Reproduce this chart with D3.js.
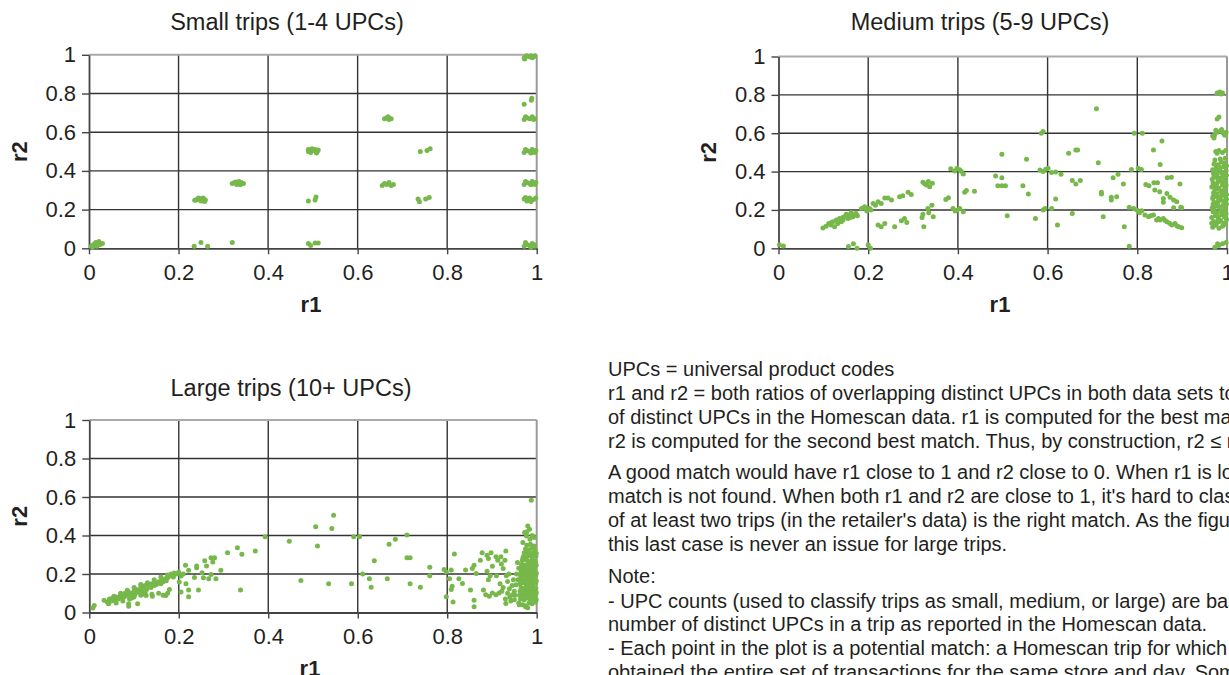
<!DOCTYPE html>
<html>
<head>
<meta charset="utf-8">
<script src="https://cdn.jsdelivr.net/npm/d3@7"></script>
<style>
  html, body { margin: 0; padding: 0; background: #fff; overflow: hidden; }
  svg { display: block; }
  text { font-family: "Liberation Sans", Arial, Helvetica, sans-serif; fill: #231f20; }
</style>
</head>
<body>
<svg id="chart" width="1229" height="675"></svg>
<script>
// ---------------- DATA ----------------
const axisTicks = [0, 0.2, 0.4, 0.6, 0.8, 1];
const tickLabels = ["0", "0.2", "0.4", "0.6", "0.8", "1"];
const panelTitles = ["Small trips (1-4 UPCs)", "Medium trips (5-9 UPCs)", "Large trips (10+ UPCs)"];
const xAxisTitle = "r1";
const yAxisTitle = "r2";

// [r1, r2] pairs
const smallTrips = [
  [0.005,0.01],[0.01,0.02],[0.015,0.03],[0.02,0.025],[0.008,0.005],[0.025,0.02],[0.012,0.015],[0.03,0.025],[0.018,0.01],[0.022,0.035],
  [0.24,0.25],[0.245,0.26],[0.25,0.255],[0.255,0.26],[0.26,0.25],[0.25,0.245],[0.258,0.242],[0.242,0.255],[0.236,0.248],
  [0.235,0.01],[0.25,0.03],[0.265,0.01],
  [0.32,0.335],[0.325,0.34],[0.33,0.335],[0.335,0.345],[0.34,0.34],[0.345,0.335],[0.33,0.33],[0.338,0.328],[0.328,0.342],
  [0.32,0.03],
  [0.49,0.5],[0.49,0.51],[0.495,0.495],[0.5,0.505],[0.505,0.51],[0.51,0.5],[0.508,0.492],[0.498,0.515],[0.512,0.508],
  [0.49,0.245],[0.505,0.25],[0.507,0.265],
  [0.49,0.025],[0.495,0.015],[0.505,0.028],[0.512,0.028],
  [0.66,0.67],[0.665,0.675],[0.67,0.665],[0.675,0.67],[0.668,0.68],
  [0.655,0.325],[0.66,0.335],[0.665,0.33],[0.67,0.34],[0.675,0.325],[0.68,0.33],
  [0.74,0.5],[0.755,0.505],[0.762,0.515],
  [0.735,0.255],[0.738,0.24],[0.752,0.255],[0.76,0.262],
  [0.972,0.985],[0.978,0.995],[0.984,0.99],[0.99,0.985],[0.996,0.995],[0.975,0.99],[0.987,0.995],[0.993,0.99],[0.973,0.978],
  [0.972,0.745],[0.988,0.765],[0.989,0.775],
  [0.972,0.665],[0.978,0.675],[0.984,0.67],[0.99,0.68],[0.996,0.67],[0.975,0.68],[0.993,0.665],
  [0.972,0.495],[0.978,0.505],[0.984,0.5],[0.99,0.51],[0.996,0.495],[0.975,0.51],[0.987,0.492],[0.998,0.505],
  [0.972,0.33],[0.978,0.34],[0.984,0.335],[0.99,0.345],[0.996,0.33],[0.975,0.345],[0.987,0.328],[0.998,0.34],
  [0.972,0.255],[0.978,0.245],[0.984,0.26],[0.99,0.25],[0.996,0.255],[0.975,0.262],[0.987,0.242],[0.998,0.26],
  [0.972,0.01],[0.978,0.02],[0.984,0.015],[0.99,0.025],[0.996,0.01],[0.975,0.03],[0.987,0.005],[0.994,0.02]
];

const mediumTrips = [
  [0.002,0.019],[0.011,0.012],
  [0.099,0.106],[0.106,0.115],[0.112,0.129],[0.117,0.121],[0.121,0.138],[0.125,0.112],[0.129,0.147],[0.132,0.129],
  [0.136,0.155],[0.14,0.138],[0.144,0.147],[0.147,0.164],[0.151,0.178],[0.155,0.155],[0.158,0.173],[0.162,0.185],
  [0.166,0.164],[0.17,0.178],[0.173,0.181],[0.185,0.208],[0.192,0.216],[0.197,0.195],[0.203,0.208],[0.206,0.2],
  [0.211,0.234],[0.216,0.225],[0.222,0.243],[0.229,0.234],[0.237,0.262],[0.244,0.262],[0.252,0.252],[0.27,0.269],
  [0.277,0.274],[0.289,0.292],[0.296,0.28],[0.118,0.135],[0.143,0.16],[0.16,0.16],[0.176,0.17],[0.195,0.205],
  [0.322,0.344],[0.33,0.33],[0.337,0.321],[0.343,0.339],[0.326,0.336],[0.334,0.348],
  [0.373,0.255],[0.379,0.264],[0.384,0.415],[0.393,0.403],[0.404,0.41],[0.412,0.388],[0.398,0.418],[0.408,0.4],
  [0.389,0.207],[0.398,0.199],[0.404,0.207],[0.412,0.19],[0.394,0.195],
  [0.415,0.292],[0.419,0.301],[0.437,0.297],
  [0.222,0.121],[0.229,0.112],[0.237,0.129],[0.259,0.112],[0.274,0.143],[0.281,0.155],[0.286,0.134],
  [0.322,0.178],[0.32,0.161],[0.324,0.112],[0.335,0.185],[0.345,0.164],[0.333,0.207],[0.342,0.225],
  [0.156,0.01],[0.167,0.024],[0.175,0.0],[0.2,0.017],[0.205,0.0],
  [0.484,0.377],[0.489,0.326],[0.498,0.368],[0.498,0.326],[0.506,0.326],[0.498,0.49],[0.51,0.17],
  [0.553,0.464],[0.545,0.326],[0.557,0.283],[0.573,0.155],
  [0.583,0.408],[0.59,0.4],[0.601,0.417],[0.609,0.395],[0.63,0.386],[0.596,0.412],[0.618,0.398],
  [0.59,0.609],[0.586,0.6],
  [0.59,0.2],[0.594,0.208],[0.609,0.208],[0.618,0.257],[0.622,0.121],
  [0.647,0.496],[0.663,0.513],[0.667,0.513],[0.655,0.353],[0.663,0.335],[0.673,0.353],[0.655,0.181],
  [0.709,0.728],[0.713,0.446],[0.72,0.292],[0.72,0.283],[0.724,0.164],
  [0.742,0.266],[0.742,0.252],[0.746,0.368],[0.757,0.386],[0.754,0.269],[0.769,0.335],[0.771,0.112],[0.782,0.011],
  [0.787,0.411],[0.802,0.417],[0.809,0.411],[0.793,0.6],[0.811,0.6],
  [0.782,0.214],[0.792,0.208],[0.799,0.2],[0.81,0.196],[0.817,0.173],[0.825,0.164],[0.836,0.173],[0.843,0.147],
  [0.851,0.147],[0.858,0.156],[0.866,0.138],[0.877,0.121],[0.884,0.129],[0.892,0.112],[0.899,0.107],
  [0.805,0.185],[0.83,0.17],[0.847,0.155],[0.862,0.145],[0.872,0.13],[0.888,0.118],
  [0.819,0.333],[0.826,0.326],[0.837,0.342],[0.845,0.342],[0.839,0.304],[0.85,0.295],[0.858,0.26],[0.866,0.286],
  [0.873,0.266],[0.881,0.252],[0.888,0.243],[0.897,0.214],[0.855,0.56],[0.836,0.513],[0.851,0.437],[0.867,0.368],
  [0.895,0.335],[0.858,0.24],[0.881,0.211],[0.899,0.211],[0.876,0.37],
  [0.968,0.11],[0.975,0.12],[0.982,0.105],[0.99,0.115],[0.996,0.125],
  [0.97,0.14],[0.978,0.135],[0.986,0.145],[0.993,0.13],[0.999,0.15],
  [0.966,0.16],[0.974,0.17],[0.981,0.165],[0.989,0.175],[0.997,0.16],
  [0.969,0.19],[0.977,0.185],[0.985,0.2],[0.992,0.195],[0.998,0.18],
  [0.967,0.21],[0.975,0.22],[0.983,0.215],[0.991,0.225],[0.997,0.205],
  [0.971,0.24],[0.979,0.235],[0.987,0.25],[0.994,0.245],[0.999,0.23],
  [0.968,0.26],[0.976,0.27],[0.984,0.265],[0.992,0.275],[0.998,0.26],
  [0.97,0.29],[0.978,0.285],[0.986,0.3],[0.993,0.295],[0.999,0.28],
  [0.966,0.32],[0.974,0.325],[0.982,0.315],[0.99,0.33],[0.997,0.32],
  [0.969,0.34],[0.977,0.335],[0.985,0.35],[0.992,0.345],[0.998,0.33],
  [0.967,0.36],[0.975,0.37],[0.983,0.365],[0.991,0.375],[0.997,0.355],
  [0.97,0.39],[0.978,0.385],[0.986,0.4],[0.993,0.395],[0.999,0.38],
  [0.968,0.41],[0.976,0.42],[0.984,0.415],[0.992,0.425],[0.998,0.405],
  [0.971,0.44],[0.979,0.435],[0.987,0.45],[0.994,0.445],[0.999,0.43],[0.985,0.465],[0.996,0.47],
  [0.972,0.125],[0.98,0.15],[0.988,0.185],[0.995,0.21],[0.969,0.23],[0.981,0.25],[0.989,0.28],[0.973,0.305],
  [0.995,0.31],[0.98,0.35],[0.971,0.375],[0.989,0.39],[0.975,0.4],[0.996,0.44],[0.973,0.46],[0.983,0.14],
  [0.966,0.13],[0.994,0.165],[0.972,0.2],[0.999,0.255],[0.977,0.31],[0.995,0.36],[0.981,0.43],[0.969,0.27],
  [0.975,0.505],[0.982,0.51],[0.99,0.5],[0.997,0.51],[0.978,0.495],
  [0.972,0.59],[0.978,0.605],[0.985,0.61],[0.992,0.6],[0.998,0.605],[0.975,0.615],[0.988,0.62],[0.968,0.585],[0.995,0.59],
  [0.971,0.575],[0.978,0.674],[0.982,0.684],
  [0.978,0.81],[0.984,0.815],[0.99,0.81],[0.987,0.805],
  [0.973,0.005],[0.979,0.024],[0.99,0.024],[0.998,0.03],[0.982,0.015]
];

const largeTrips = [
  [0.008,0.024],[0.011,0.036],[0.033,0.064],[0.04,0.055],[0.045,0.07],[0.05,0.06],[0.052,0.075],[0.058,0.065],
  [0.06,0.08],[0.065,0.07],[0.068,0.085],[0.07,0.075],[0.075,0.09],[0.078,0.08],[0.08,0.1],[0.085,0.09],
  [0.088,0.105],[0.09,0.085],[0.095,0.1],[0.1,0.11],[0.102,0.095],[0.105,0.12],[0.108,0.105],[0.11,0.115],
  [0.115,0.13],[0.118,0.11],[0.12,0.125],[0.125,0.14],[0.128,0.12],[0.13,0.135],[0.135,0.145],[0.138,0.13],
  [0.14,0.15],[0.145,0.14],[0.148,0.155],[0.15,0.145],[0.155,0.16],[0.16,0.15],[0.162,0.17],[0.165,0.16],
  [0.17,0.175],[0.172,0.165],[0.175,0.18],[0.18,0.19],[0.183,0.2],[0.188,0.185],[0.19,0.205],[0.07,0.1],
  [0.1,0.13],[0.13,0.155],[0.195,0.2],[0.2,0.21],[0.205,0.19],[0.21,0.2],
  [0.055,0.085],[0.085,0.115],[0.115,0.145],[0.145,0.17],[0.16,0.185],[0.175,0.195],[0.095,0.075],[0.12,0.095],
  [0.043,0.045],[0.06,0.05],[0.075,0.06],[0.09,0.07],[0.1,0.08],[0.115,0.09],[0.125,0.1],[0.14,0.095],
  [0.155,0.1],[0.165,0.09],[0.175,0.1],[0.088,0.033],[0.088,0.046],[0.108,0.046],[0.127,0.088],[0.141,0.085],
  [0.171,0.088],[0.179,0.12],[0.201,0.158],[0.205,0.106],[0.216,0.149],[0.222,0.082],[0.222,0.117],[0.235,0.182],
  [0.244,0.117],[0.215,0.245],[0.222,0.219],[0.24,0.241],[0.24,0.233],[0.258,0.269],[0.262,0.241],[0.252,0.207],
  [0.255,0.18],[0.267,0.175],[0.272,0.198],[0.272,0.284],[0.28,0.284],[0.276,0.262],[0.283,0.175],[0.294,0.219],
  [0.309,0.311],[0.331,0.337],[0.341,0.302],[0.338,0.117],[0.371,0.319],[0.393,0.394],[0.447,0.37],[0.473,0.166],
  [0.506,0.446],[0.546,0.505],[0.542,0.437],[0.51,0.345],[0.535,0.149],[0.586,0.149],[0.591,0.394],[0.604,0.394],
  [0.611,0.2],[0.626,0.175],[0.63,0.131],[0.637,0.269],[0.666,0.175],[0.67,0.354],[0.684,0.38],[0.71,0.403],
  [0.71,0.285],[0.717,0.285],[0.717,0.149],[0.74,0.131],[0.761,0.235],[0.761,0.191],[0.793,0.224],[0.798,0.21],
  [0.798,0.082],[0.809,0.221],[0.805,0.175],[0.811,0.137],[0.809,0.12],[0.813,0.054],[0.816,0.304],[0.826,0.175],
  [0.834,0.151],[0.841,0.221],[0.852,0.117],[0.856,0.228],[0.86,0.245],[0.86,0.064],[0.86,0.03],[0.865,0.202],
  [0.874,0.271],[0.878,0.311],[0.881,0.117],[0.889,0.297],[0.892,0.28],[0.898,0.311],[0.889,0.214],[0.892,0.17],
  [0.896,0.191],[0.901,0.24],[0.909,0.29],[0.91,0.191],[0.913,0.271],[0.92,0.29],[0.921,0.252],[0.925,0.228],
  [0.931,0.32],[0.929,0.271],[0.932,0.191],[0.935,0.161],[0.901,0.101],[0.909,0.092],[0.916,0.101],[0.894,0.085],
  [0.886,0.092],[0.931,0.047],[0.939,0.123],[0.946,0.092],[0.95,0.066],[0.958,0.17],[0.954,0.144],[0.961,0.04],
  [0.955,0.2],[0.96,0.23],[0.957,0.26],[0.95,0.11],[0.945,0.14],[0.94,0.08],[0.935,0.1],[0.96,0.05],
  [0.925,0.13],[0.93,0.07],[0.942,0.06],[0.948,0.17],[0.918,0.15],[0.922,0.11],[0.952,0.09],[0.938,0.2],
  [0.968,0.04],[0.975,0.035],[0.983,0.05],[0.99,0.045],[0.997,0.055],
  [0.964,0.07],[0.972,0.065],[0.979,0.075],[0.986,0.068],[0.993,0.072],[0.999,0.066],
  [0.962,0.09],[0.97,0.095],[0.977,0.085],[0.984,0.092],[0.991,0.088],[0.998,0.095],
  [0.963,0.11],[0.971,0.105],[0.978,0.115],[0.985,0.108],[0.992,0.112],[0.999,0.105],
  [0.965,0.13],[0.972,0.125],[0.979,0.135],[0.986,0.128],[0.993,0.132],[0.998,0.125],
  [0.963,0.15],[0.97,0.155],[0.977,0.145],[0.984,0.152],[0.991,0.148],[0.998,0.155],
  [0.966,0.17],[0.973,0.165],[0.98,0.175],[0.987,0.168],[0.994,0.172],[0.999,0.165],
  [0.964,0.19],[0.971,0.195],[0.978,0.185],[0.985,0.192],[0.992,0.188],[0.998,0.195],
  [0.965,0.21],[0.972,0.205],[0.979,0.215],[0.986,0.208],[0.993,0.212],[0.999,0.205],
  [0.967,0.23],[0.974,0.235],[0.981,0.225],[0.988,0.232],[0.995,0.228],
  [0.966,0.25],[0.973,0.245],[0.98,0.255],[0.987,0.248],[0.994,0.252],[0.999,0.245],
  [0.968,0.27],[0.975,0.275],[0.982,0.265],[0.989,0.272],[0.996,0.268],
  [0.97,0.29],[0.977,0.285],[0.984,0.295],[0.991,0.288],[0.998,0.292],
  [0.972,0.31],[0.979,0.315],[0.986,0.305],[0.993,0.312],[0.999,0.308],
  [0.975,0.33],[0.982,0.325],[0.989,0.335],[0.996,0.328],
  [0.978,0.35],[0.986,0.355],[0.994,0.345],
  [0.967,0.08],[0.975,0.1],[0.982,0.12],[0.989,0.14],[0.996,0.16],[0.968,0.18],[0.976,0.2],[0.983,0.22],
  [0.99,0.24],[0.997,0.26],[0.969,0.28],[0.976,0.3],[0.983,0.32],[0.99,0.06],[0.997,0.08],[0.97,0.12],
  [0.977,0.14],[0.984,0.16],[0.991,0.18],[0.998,0.2],[0.971,0.22],[0.978,0.24],[0.985,0.26],[0.992,0.3],
  [0.969,0.363],[0.973,0.415],[0.977,0.398],[0.98,0.45],[0.984,0.432],[0.988,0.583],[0.99,0.4],[0.985,0.38],
  [0.995,0.39],[0.978,0.42],[0.975,0.03],[0.98,0.025]
];

const noteLines = [
  "UPCs = universal product codes",
  "r1 and r2 = both ratios of overlapping distinct UPCs in both data sets to the number",
  "of distinct UPCs in the Homescan data. r1 is computed for the best match, and",
  "r2 is computed for the second best match. Thus, by construction, r2 \u2264 r1.",
  "A good match would have r1 close to 1 and r2 close to 0. When r1 is low, the",
  "match is not found. When both r1 and r2 are close to 1, it's hard to classify which",
  "of at least two trips (in the retailer's data) is the right match. As the figure shows,",
  "this last case is never an issue for large trips.",
  "Note:",
  "- UPC counts (used to classify trips as small, medium, or large) are based on the",
  "number of distinct UPCs in a trip as reported in the Homescan data.",
  "- Each point in the plot is a potential match: a Homescan trip for which we",
  "obtained the entire set of transactions for the same store and day. Some"
];

// ---------------- LAYOUT ----------------
const layout = [
  { data: smallTrips,  title: panelTitles[0], left: 89,    right: 536.7, top: 54.8,  bottom: 248.3, titleX: 287, titleY: 29.5, r2X: 27,  r1X: 311 },
  { data: mediumTrips, title: panelTitles[1], left: 778.5, right: 1227,  top: 56.5,  bottom: 248.3, titleX: 980, titleY: 29.5, r2X: 716, r1X: 1000 },
  { data: largeTrips,  title: panelTitles[2], left: 89.3,  right: 536.7, top: 420,   bottom: 612.5, titleX: 291, titleY: 396,  r2X: 27,  r1X: 310 }
];

const svg = d3.select("#chart");
svg.append("rect").attr("width", 1229).attr("height", 675).attr("fill", "#fff");

const DOT = "#76b84a";
const fmt = d => tickLabels[axisTicks.indexOf(d)];

layout.forEach(p => {
  const x = d3.scaleLinear().domain([0, 1]).range([p.left, p.right]);
  const y = d3.scaleLinear().domain([0, 1]).range([p.bottom, p.top]);
  const g = svg.append("g");

  // gridlines
  g.append("g").selectAll("line").data(axisTicks.filter(t => t > 0 && t < 1)).join("line")
    .attr("x1", p.left).attr("x2", p.right).attr("y1", d => y(d)).attr("y2", d => y(d))
    .attr("stroke", "#333").attr("stroke-width", 1.4);
  g.append("g").selectAll("line").data(axisTicks.filter(t => t > 0 && t < 1)).join("line")
    .attr("y1", p.top).attr("y2", p.bottom).attr("x1", d => x(d)).attr("x2", d => x(d))
    .attr("stroke", "#333").attr("stroke-width", 1.4);
  // top & right border
  g.append("line").attr("x1", p.left).attr("x2", p.right).attr("y1", y(1)).attr("y2", y(1))
    .attr("stroke", "#aaa").attr("stroke-width", 2);
  g.append("line").attr("x1", x(1)).attr("x2", x(1)).attr("y1", p.top).attr("y2", p.bottom)
    .attr("stroke", "#999").attr("stroke-width", 2);

  // axes
  const ax = g.append("g").attr("transform", `translate(0,${p.bottom})`)
    .call(d3.axisBottom(x).tickValues(axisTicks).tickFormat(fmt).tickSize(6).tickSizeOuter(0).tickPadding(10));
  const ay = g.append("g").attr("transform", `translate(${p.left},0)`)
    .call(d3.axisLeft(y).tickValues(axisTicks).tickFormat(fmt).tickSize(7).tickSizeOuter(0).tickPadding(6));
  [ax, ay].forEach(a => {
    a.select(".domain").attr("stroke", "#444").attr("stroke-width", 1.8);
    a.selectAll(".tick line").attr("stroke", "#444").attr("stroke-width", 1.4);
    a.selectAll(".tick text").attr("font-size", 22).attr("fill", "#231f20")
      .style("font-family", "'Liberation Sans', Arial, sans-serif");
  });

  // dots
  g.append("g").selectAll("circle").data(p.data).join("circle")
    .attr("cx", d => x(d[0])).attr("cy", d => y(d[1])).attr("r", 2.5).attr("fill", DOT);

  // titles
  g.append("text").attr("x", p.titleX).attr("y", p.titleY).attr("text-anchor", "middle")
    .attr("font-size", 23.5).text(p.title);
  g.append("text").attr("x", p.r1X).attr("y", p.bottom + 63.5).attr("text-anchor", "middle")
    .attr("font-size", 22).attr("font-weight", "bold").text(xAxisTitle);
  g.append("text").attr("transform", `translate(${p.r2X},${(p.top + p.bottom) / 2}) rotate(-90)`)
    .attr("text-anchor", "middle").attr("font-size", 22).attr("font-weight", "bold").text(yAxisTitle);
});

// notes
const noteY = [376, 400, 424, 448, 479, 503, 527, 551, 583, 607.5, 631, 655, 679];
svg.append("g").selectAll("text").data(noteLines).join("text")
  .attr("x", 608).attr("y", (d, i) => noteY[i]).attr("font-size", 20).text(d => d);
</script>
</body>
</html>
